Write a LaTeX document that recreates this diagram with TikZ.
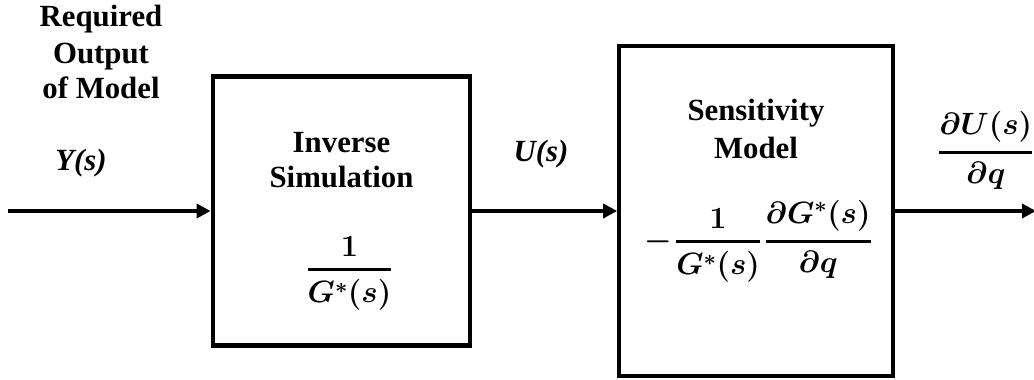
\RequirePackage{fix-cm}
\documentclass[tikz,border=0pt]{standalone}
\usepackage{amsmath}
\usepackage{fontspec}
\setmainfont{Liberation Serif}
\usepackage{bm}
\usetikzlibrary{arrows.meta}

% bold fraction with a heavy rule
\newcommand{\bfrac}[2]{\genfrac{}{}{2.8pt}{0}{#1}{#2}}
\newcommand{\Gstar}{\bm{G^{*}(s)}}

\tikzset{
  blockbox/.style={draw, line width=4.3pt, inner sep=0pt},
  flow/.style={line width=4.3pt, -{Triangle[length=14pt,width=14pt]}},
  lbl/.style={inner sep=0pt, anchor=base, font=\fontsize{30.8}{36}\selectfont\bfseries},
  mathlbl/.style={inner sep=0pt, anchor=base, font=\fontsize{30.8}{36}\selectfont},
}

\begin{document}
\begin{tikzpicture}[x=1pt, y=-1pt]
\useasboundingbox (0,0) rectangle (1034,380);

% blocks
\node[blockbox, minimum width=257.5pt, minimum height=269.2pt] (inv) at (341.5,211) {};
\node[blockbox, minimum width=274pt, minimum height=330.2pt] (sens) at (756.3,211) {};

% signal flow
\coordinate (src) at (8,211);
\coordinate (snk) at (1036,211);
\draw[flow] (src) -- (inv.west);
\draw[flow] (inv.east) -- (sens.west);
\draw[flow] (sens.east) -- (snk);

% input labels
\node[lbl] (req1) at (101,27) {Required};
\node[lbl] (req2) at (101,63) {Output};
\node[lbl] (req3) at (101,98) {of Model};
\node[lbl] (ys) at (81,170) {\itshape Y(s)};

% inverse simulation block
\node[lbl] (inv1) at (341.5,152) {Inverse};
\node[lbl] (inv2) at (341.5,187.5) {Simulation};
\node[mathlbl] (invtf) at (349.5,277) {$\displaystyle\bfrac{\bm{1}}{\Gstar}$};

% intermediate signal
\node[lbl] (us) at (541,161) {\itshape U(s)};

% sensitivity block
\node[lbl] (sen1) at (756,120.5) {Sensitivity};
\node[lbl] (sen2) at (756,158) {Model};
\node[mathlbl] (sentf) at (758,249) {$\displaystyle\bm{-}\mkern2mu\bfrac{\bm{1}}{\Gstar}\mkern2mu\bfrac{\bm{\partial}\Gstar}{\bm{\partial q}}$};

% output signal
\node[mathlbl, anchor=base west] (dus) at (938,160) {$\displaystyle\bfrac{\bm{\partial U(s)}}{\bm{\partial q}}$};
\end{tikzpicture}
\end{document}
